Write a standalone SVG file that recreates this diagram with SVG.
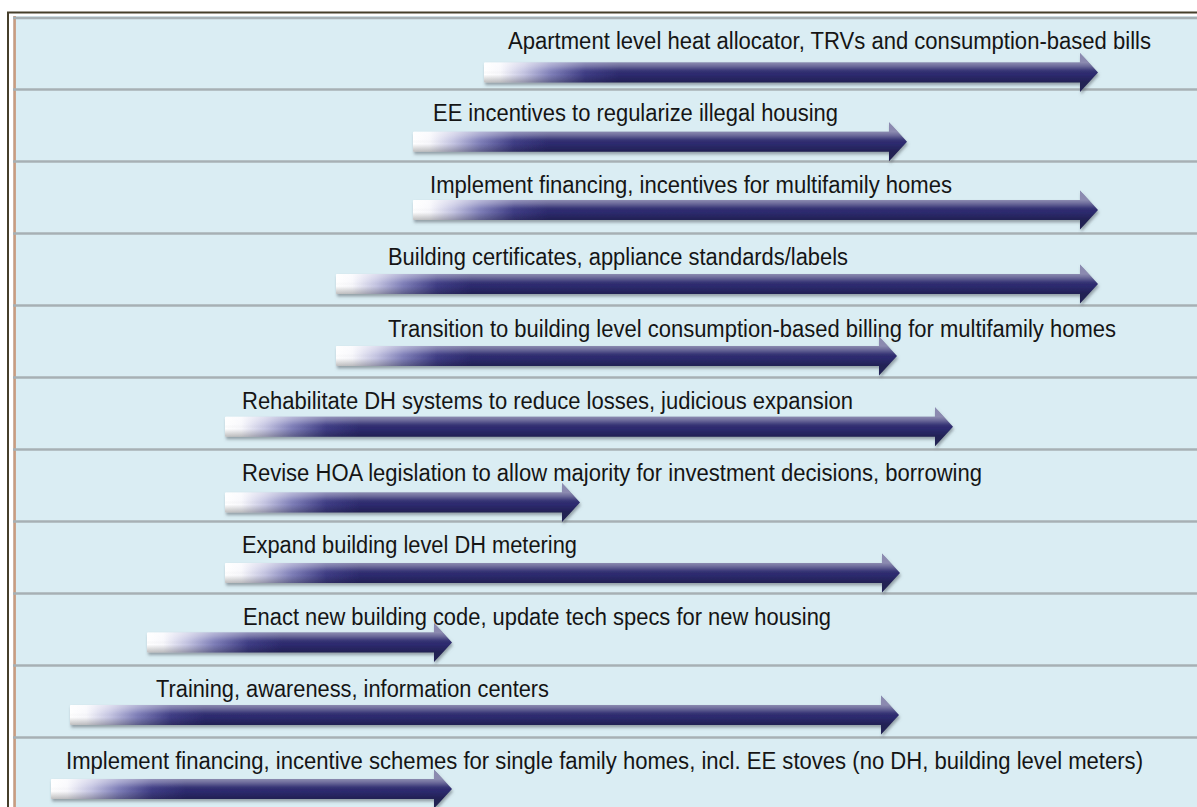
<svg xmlns="http://www.w3.org/2000/svg" width="1197" height="807" viewBox="0 0 1197 807">
<style>
.lbl{font-family:"Liberation Sans",Arial,sans-serif;font-size:23px;fill:#151515}
.sep{stroke:#a7b0b4;stroke-width:2.6;fill:none}
.body{fill:url(#fade)}
.shine{fill:url(#shine)}
.arr{filter:url(#shadow)}
</style>
<defs>
<linearGradient id="fade" gradientUnits="userSpaceOnUse" x1="0" y1="0" x2="135" y2="0">
<stop offset="0" stop-color="#ffffff"/>
<stop offset="0.12" stop-color="#f8f8fc"/>
<stop offset="0.3" stop-color="#c4c4e2"/>
<stop offset="0.5" stop-color="#7e7eb8"/>
<stop offset="0.75" stop-color="#3e3c84"/>
<stop offset="1" stop-color="#2d2b6f"/>
</linearGradient>
<linearGradient id="shine" gradientUnits="userSpaceOnUse" x1="0" y1="-10" x2="0" y2="10">
<stop offset="0" stop-color="#ffffff" stop-opacity="0.45"/>
<stop offset="0.18" stop-color="#ffffff" stop-opacity="0.3"/>
<stop offset="0.4" stop-color="#ffffff" stop-opacity="0.06"/>
<stop offset="0.6" stop-color="#000000" stop-opacity="0"/>
<stop offset="1" stop-color="#000000" stop-opacity="0.25"/>
</linearGradient>
<filter id="shadow" x="-5%" y="-50%" width="110%" height="200%">
<feDropShadow dx="1" dy="2.5" stdDeviation="1.5" flood-color="#556066" flood-opacity="0.55"/>
</filter>
</defs>

<rect x="0" y="0" width="1197" height="807" fill="#ffffff"/>
<rect x="13" y="16" width="1184" height="791" fill="#daedf3"/>
<line x1="14.6" y1="16" x2="14.6" y2="807" stroke="#c99c80" stroke-width="2.6"/>
<line x1="7" y1="12.5" x2="1197" y2="12.5" stroke="#463f2b" stroke-width="2"/>
<line x1="8" y1="12" x2="8" y2="807" stroke="#463f2b" stroke-width="2"/>

<g id="separators">
<line class="sep" x1="13" y1="18" x2="1197" y2="18" stroke="#c2c8cb"/>
<line class="sep" x1="13" y1="89.5" x2="1197" y2="89.5"/>
<line class="sep" x1="13" y1="161.5" x2="1197" y2="161.5"/>
<line class="sep" x1="13" y1="233.5" x2="1197" y2="233.5"/>
<line class="sep" x1="13" y1="305.5" x2="1197" y2="305.5"/>
<line class="sep" x1="13" y1="377.5" x2="1197" y2="377.5"/>
<line class="sep" x1="13" y1="449.5" x2="1197" y2="449.5"/>
<line class="sep" x1="13" y1="521.5" x2="1197" y2="521.5"/>
<line class="sep" x1="13" y1="593.5" x2="1197" y2="593.5"/>
<line class="sep" x1="13" y1="665.5" x2="1197" y2="665.5"/>
<line class="sep" x1="13" y1="737.5" x2="1197" y2="737.5"/>
</g>

<g id="item1">
<text class="lbl" x="508" y="49" textLength="643" lengthAdjust="spacingAndGlyphs">Apartment level heat allocator, TRVs and consumption-based bills</text>
<g class="arr" transform="translate(484,72.5)"><path class="body" d="M1,-10 H596 V-19.5 L614,0 L596,19.5 V10 H1 Q0,10 0,9 V-9 Q0,-10 1,-10 Z"/><path class="shine" d="M1,-10 H596 V-19.5 L614,0 L596,19.5 V10 H1 Q0,10 0,9 V-9 Q0,-10 1,-10 Z"/></g>
</g>

<g id="item2">
<text class="lbl" x="433" y="121" textLength="405" lengthAdjust="spacingAndGlyphs">EE incentives to regularize illegal housing</text>
<g class="arr" transform="translate(413,141.7)"><path class="body" d="M1,-10 H476 V-19.5 L494,0 L476,19.5 V10 H1 Q0,10 0,9 V-9 Q0,-10 1,-10 Z"/><path class="shine" d="M1,-10 H476 V-19.5 L494,0 L476,19.5 V10 H1 Q0,10 0,9 V-9 Q0,-10 1,-10 Z"/></g>
</g>

<g id="item3">
<text class="lbl" x="430" y="193" textLength="522" lengthAdjust="spacingAndGlyphs">Implement financing, incentives for multifamily homes</text>
<g class="arr" transform="translate(413,210)"><path class="body" d="M1,-10 H667 V-19.5 L685,0 L667,19.5 V10 H1 Q0,10 0,9 V-9 Q0,-10 1,-10 Z"/><path class="shine" d="M1,-10 H667 V-19.5 L685,0 L667,19.5 V10 H1 Q0,10 0,9 V-9 Q0,-10 1,-10 Z"/></g>
</g>

<g id="item4">
<text class="lbl" x="388" y="265" textLength="460" lengthAdjust="spacingAndGlyphs">Building certificates, appliance standards/labels</text>
<g class="arr" transform="translate(336,284)"><path class="body" d="M1,-10 H744 V-19.5 L762,0 L744,19.5 V10 H1 Q0,10 0,9 V-9 Q0,-10 1,-10 Z"/><path class="shine" d="M1,-10 H744 V-19.5 L762,0 L744,19.5 V10 H1 Q0,10 0,9 V-9 Q0,-10 1,-10 Z"/></g>
</g>

<g id="item5">
<text class="lbl" x="388" y="337" textLength="728" lengthAdjust="spacingAndGlyphs">Transition to building level consumption-based billing for multifamily homes</text>
<g class="arr" transform="translate(336,356)"><path class="body" d="M1,-10 H543 V-19.5 L561,0 L543,19.5 V10 H1 Q0,10 0,9 V-9 Q0,-10 1,-10 Z"/><path class="shine" d="M1,-10 H543 V-19.5 L561,0 L543,19.5 V10 H1 Q0,10 0,9 V-9 Q0,-10 1,-10 Z"/></g>
</g>

<g id="item6">
<text class="lbl" x="242" y="409" textLength="611" lengthAdjust="spacingAndGlyphs">Rehabilitate DH systems to reduce losses, judicious expansion</text>
<g class="arr" transform="translate(225,426.7)"><path class="body" d="M1,-10 H710 V-19.5 L728,0 L710,19.5 V10 H1 Q0,10 0,9 V-9 Q0,-10 1,-10 Z"/><path class="shine" d="M1,-10 H710 V-19.5 L728,0 L710,19.5 V10 H1 Q0,10 0,9 V-9 Q0,-10 1,-10 Z"/></g>
</g>

<g id="item7">
<text class="lbl" x="242" y="481" textLength="740" lengthAdjust="spacingAndGlyphs">Revise HOA legislation to allow majority for investment decisions, borrowing</text>
<g class="arr" transform="translate(225,502.5)"><path class="body" d="M1,-10 H337 V-19.5 L355,0 L337,19.5 V10 H1 Q0,10 0,9 V-9 Q0,-10 1,-10 Z"/><path class="shine" d="M1,-10 H337 V-19.5 L355,0 L337,19.5 V10 H1 Q0,10 0,9 V-9 Q0,-10 1,-10 Z"/></g>
</g>

<g id="item8">
<text class="lbl" x="242" y="553" textLength="335" lengthAdjust="spacingAndGlyphs">Expand building level DH metering</text>
<g class="arr" transform="translate(225,573)"><path class="body" d="M1,-10 H657 V-19.5 L675,0 L657,19.5 V10 H1 Q0,10 0,9 V-9 Q0,-10 1,-10 Z"/><path class="shine" d="M1,-10 H657 V-19.5 L675,0 L657,19.5 V10 H1 Q0,10 0,9 V-9 Q0,-10 1,-10 Z"/></g>
</g>

<g id="item9">
<text class="lbl" x="243" y="625" textLength="588" lengthAdjust="spacingAndGlyphs">Enact new building code, update tech specs for new housing</text>
<g class="arr" transform="translate(147,642.5)"><path class="body" d="M1,-10 H287 V-19.5 L305,0 L287,19.5 V10 H1 Q0,10 0,9 V-9 Q0,-10 1,-10 Z"/><path class="shine" d="M1,-10 H287 V-19.5 L305,0 L287,19.5 V10 H1 Q0,10 0,9 V-9 Q0,-10 1,-10 Z"/></g>
</g>

<g id="item10">
<text class="lbl" x="156" y="697" textLength="393" lengthAdjust="spacingAndGlyphs">Training, awareness, information centers</text>
<g class="arr" transform="translate(70,715)"><path class="body" d="M1,-10 H811 V-19.5 L829,0 L811,19.5 V10 H1 Q0,10 0,9 V-9 Q0,-10 1,-10 Z"/><path class="shine" d="M1,-10 H811 V-19.5 L829,0 L811,19.5 V10 H1 Q0,10 0,9 V-9 Q0,-10 1,-10 Z"/></g>
</g>

<g id="item11">
<text class="lbl" x="66" y="769" textLength="1077" lengthAdjust="spacingAndGlyphs">Implement financing, incentive schemes for single family homes, incl. EE stoves (no DH, building level meters)</text>
<g class="arr" transform="translate(51,789)"><path class="body" d="M1,-10 H383 V-19.5 L401,0 L383,19.5 V10 H1 Q0,10 0,9 V-9 Q0,-10 1,-10 Z"/><path class="shine" d="M1,-10 H383 V-19.5 L401,0 L383,19.5 V10 H1 Q0,10 0,9 V-9 Q0,-10 1,-10 Z"/></g>
</g>
</svg>
